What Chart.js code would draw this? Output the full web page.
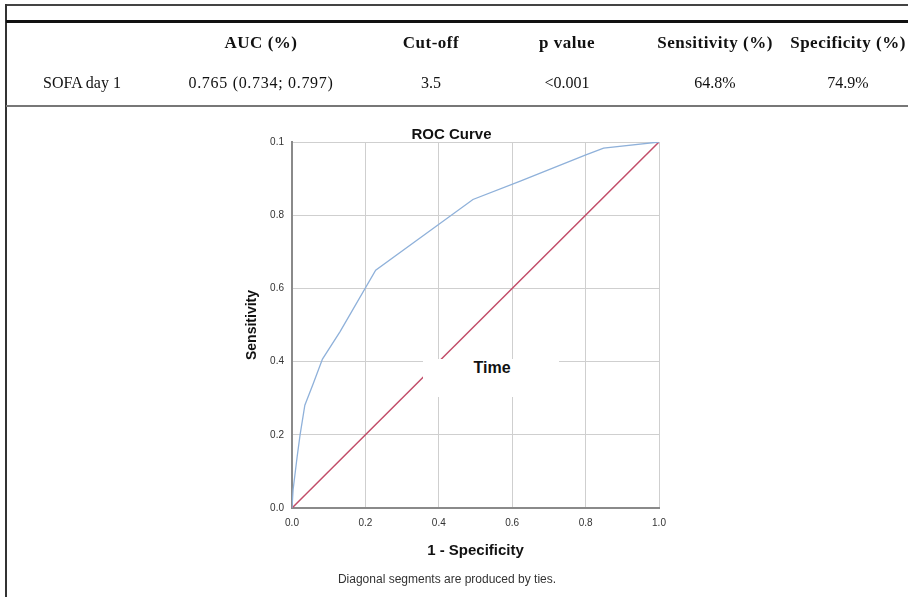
<!DOCTYPE html>
<html>
<head>
<meta charset="utf-8">
<script src="https://cdn.jsdelivr.net/npm/chart.js@4/dist/chart.umd.min.js"></script>
<style>
  html, body { margin:0; padding:0; background:#fff; }
  body { width:908px; height:597px; position:relative; overflow:hidden; }
  #chartWrap { position:absolute; left:0; top:0; width:908px; height:597px; }
  .ln { position:absolute; }
  .tx { position:absolute; font-family:"Liberation Serif","Times New Roman",serif; font-size:16px; color:#111; white-space:nowrap; transform:translate(-50%,-50%); }
  .hd { font-weight:bold; font-size:17px; letter-spacing:0.5px; }
  #timeBox { position:absolute; left:423px; top:359px; width:136px; height:38px; background:#fff; }
  #timeTxt { position:absolute; left:492px; top:368px; transform:translate(-50%,-50%); font-family:"Liberation Sans",Arial,sans-serif; font-weight:bold; font-size:16px; color:#111; }
  #foot { position:absolute; left:447px; top:579px; transform:translate(-50%,-50%); font-family:"Liberation Sans",Arial,sans-serif; font-size:12px; color:#333; white-space:nowrap; }
</style>
</head>
<body>
<div id="chartWrap"><canvas id="c" width="908" height="597"></canvas></div>

<div class="ln" style="left:5px;top:4px;width:903px;height:1.5px;background:#444;"></div>
<div class="ln" style="left:5px;top:4px;width:2px;height:593px;background:#333;"></div>
<div class="ln" style="left:6px;top:20px;width:902px;height:2.5px;background:#111;"></div>
<div class="ln" style="left:6px;top:105px;width:902px;height:1.5px;background:#777;"></div>

<div id="table"></div>
<div id="timeBox"></div>
<div id="timeTxt">Time</div>
<div id="foot">Diagonal segments are produced by ties.</div>

<script>
// ---- table data ----
const tableHeaders = ["", "AUC (%)", "Cut-off", "p value", "Sensitivity (%)", "Specificity (%)"];
const tableRow = ["SOFA day 1", "0.765 (0.734; 0.797)", "3.5", "<0.001", "64.8%", "74.9%"];

// ---- ROC data ----
const rocFpr = [0, 0.003, 0.014, 0.022, 0.035, 0.058, 0.083, 0.131, 0.228, 0.493, 0.622, 0.799, 0.849, 1.0];
const rocTpr = [0, 0.05, 0.14, 0.20, 0.281, 0.34, 0.407, 0.482, 0.650, 0.843, 0.893, 0.964, 0.983, 1.0];
const refX = [0, 1];
const refY = [0, 1];
const xTickLabels = ["0.0", "0.2", "0.4", "0.6", "0.8", "1.0"];
const yTickLabels = ["0.0", "0.2", "0.4", "0.6", "0.8", "0.1"];

// build table text
const colX = [82, 261, 431, 567, 715, 848];
const t = document.getElementById("table");
tableHeaders.forEach((h, i) => {
  if (!h) return;
  const d = document.createElement("div");
  d.className = "tx hd";
  d.style.left = colX[i] + "px"; d.style.top = "43px";
  d.textContent = h; t.appendChild(d);
});
tableRow.forEach((h, i) => {
  const d = document.createElement("div");
  d.className = "tx";
  d.style.left = colX[i] + "px"; d.style.top = "83px";
  if (i === 1) d.style.letterSpacing = "0.7px";
  d.textContent = h; t.appendChild(d);
});

const roc = rocFpr.map((x, i) => ({x: x, y: rocTpr[i]}));
const ref = refX.map((x, i) => ({x: x, y: refY[i]}));

new Chart(document.getElementById("c"), {
  type: "scatter",
  data: {
    datasets: [
      { data: ref, showLine: true, borderColor: "#c24d69", borderWidth: 1.5, pointRadius: 0, order: 2 },
      { data: roc, showLine: true, borderColor: "#8fb1da", borderWidth: 1.3, pointRadius: 0, order: 1 }
    ]
  },
  options: {
    responsive: false,
    animation: false,
    events: [],
    layout: { padding: { left: 244, right: 249, top: 119, bottom: 37 } },
    plugins: {
      legend: { display: false },
      tooltip: { enabled: false },
      title: {
        display: true, text: "ROC Curve", color: "#111",
        font: { family: "'Liberation Sans', Arial, sans-serif", size: 15, weight: "bold" },
        padding: { top: 7, bottom: -2 }
      }
    },
    scales: {
      x: {
        type: "linear", min: 0, max: 1,
        afterFit: s => { s.height = 52; },
        border: { color: "#8a8a8a", width: 2 },
        grid: { color: "#cfcfcf", lineWidth: 1, drawTicks: false },
        ticks: {
          stepSize: 0.2, padding: 9, color: "#333", maxRotation: 0,
          font: { family: "'Liberation Sans', Arial, sans-serif", size: 10 },
          callback: (v, i) => xTickLabels[i]
        },
        title: {
          display: true, text: "1 - Specificity", color: "#111",
          font: { family: "'Liberation Sans', Arial, sans-serif", size: 15, weight: "bold" },
          padding: { top: 8, bottom: 0 }
        }
      },
      y: {
        type: "linear", min: 0, max: 1,
        afterFit: s => { s.width = 48; },
        border: { color: "#8a8a8a", width: 2 },
        grid: { color: "#cfcfcf", lineWidth: 1, drawTicks: false },
        ticks: {
          stepSize: 0.2, padding: 8, color: "#333",
          font: { family: "'Liberation Sans', Arial, sans-serif", size: 10 },
          callback: (v, i) => yTickLabels[i]
        },
        title: {
          display: true, text: "Sensitivity", color: "#111",
          font: { family: "'Liberation Sans', Arial, sans-serif", size: 14, weight: "bold" },
          padding: { top: 0, bottom: 0 }
        }
      }
    }
  }
});
</script>
</body>
</html>
